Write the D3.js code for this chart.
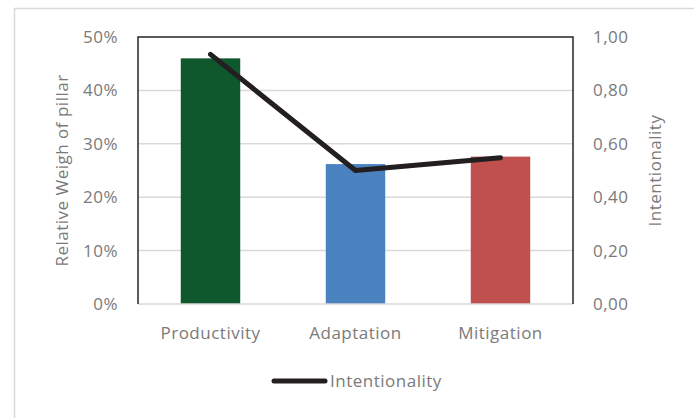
<!DOCTYPE html>
<html>
<head>
<meta charset="utf-8">
<script src="https://cdn.jsdelivr.net/npm/d3@7"></script>
<style>
  body { margin: 0; background: #fff; }
  svg text { font-family: "Open Sans", sans-serif; fill: #7a7a7a; letter-spacing: 0.5px; }
</style>
</head>
<body>
<div id="chart"></div>
<script>
const categories = ["Productivity", "Adaptation", "Mitigation"];
const weights = [0.46, 0.262, 0.276];
const intentionality = [0.935, 0.50, 0.548];
const barColors = ["#0f582d", "#4a81bf", "#c0504d"];
const leftTicks = [0, 0.1, 0.2, 0.3, 0.4, 0.5];
const rightTicks = [0, 0.2, 0.4, 0.6, 0.8, 1.0];

const width = 694, height = 418;
const margin = { top: 37, right: 121, bottom: 114, left: 138 };
const innerW = width - margin.left - margin.right;
const innerH = height - margin.top - margin.bottom;
const fs = 17;

const svg = d3.select("#chart").append("svg")
  .attr("width", width)
  .attr("height", height);

// outer chart frame
svg.append("rect")
  .attr("x", 14.5).attr("y", 8.5)
  .attr("width", width).attr("height", height)
  .attr("fill", "none")
  .attr("stroke", "#d9d9d9")
  .attr("stroke-width", 1.5);

const g = svg.append("g").attr("transform", `translate(${margin.left},${margin.top})`);

const x = d3.scaleBand().domain(categories).range([0, innerW]).paddingInner(0.59).paddingOuter(0.295);
const yL = d3.scaleLinear().domain([0, 0.5]).range([innerH, 0]);
const yR = d3.scaleLinear().domain([0, 1]).range([innerH, 0]);

// gridlines
g.selectAll(".grid")
  .data(leftTicks.slice(1, -1))
  .enter().append("line")
  .attr("x1", 0).attr("x2", innerW)
  .attr("y1", d => yL(d)).attr("y2", d => yL(d))
  .attr("stroke", "#d9d9d9").attr("stroke-width", 1.5);

// bars
g.selectAll(".bar")
  .data(categories)
  .enter().append("rect")
  .attr("x", d => x(d))
  .attr("width", x.bandwidth())
  .attr("y", (d, i) => yL(weights[i]))
  .attr("height", (d, i) => innerH - yL(weights[i]))
  .attr("fill", (d, i) => barColors[i]);

// bottom axis line
g.append("line")
  .attr("x1", 0).attr("x2", innerW)
  .attr("y1", innerH).attr("y2", innerH)
  .attr("stroke", "#d9d9d9").attr("stroke-width", 1.5);

// frame: left, top, right dark
g.append("path")
  .attr("d", `M0,${innerH}V0H${innerW}V${innerH}`)
  .attr("fill", "none")
  .attr("stroke", "#262626")
  .attr("stroke-width", 1.5);

// line series
const line = d3.line()
  .x((d, i) => x(categories[i]) + x.bandwidth() / 2)
  .y(d => yR(d));

g.append("path")
  .datum(intentionality)
  .attr("d", line)
  .attr("fill", "none")
  .attr("stroke", "#231f20")
  .attr("stroke-width", 5)
  .attr("stroke-linecap", "round")
  .attr("stroke-linejoin", "round");

// left axis
const leftAxis = d3.axisLeft(yL).tickValues(leftTicks).tickFormat(d3.format(".0%")).tickSize(0).tickPadding(20);
g.append("g").call(leftAxis)
  .call(a => a.select(".domain").remove())
  .selectAll("text").attr("font-size", fs).style("font-family", null);

// right axis
const rightAxis = d3.axisRight(yR).tickValues(rightTicks)
  .tickFormat(d => d3.format(".2f")(d).replace(".", ","))
  .tickSize(0).tickPadding(20);
g.append("g").attr("transform", `translate(${innerW},0)`).call(rightAxis)
  .call(a => a.select(".domain").remove())
  .selectAll("text").attr("font-size", fs).style("font-family", null);

// x axis labels
const xAxis = d3.axisBottom(x).tickSize(0).tickPadding(23);
g.append("g").attr("transform", `translate(0,${innerH})`).call(xAxis)
  .call(a => a.select(".domain").remove())
  .selectAll("text").attr("font-size", fs).style("font-family", null);

svg.selectAll(".tick text").attr("fill", "#7a7a7a");

// axis titles
svg.append("text")
  .attr("transform", `translate(68,${margin.top + innerH / 2}) rotate(-90)`)
  .attr("text-anchor", "middle")
  .attr("font-size", fs)
  .text("Relative Weigh of pillar");

svg.append("text")
  .attr("transform", `translate(661,${margin.top + innerH / 2}) rotate(-90)`)
  .attr("text-anchor", "middle")
  .attr("font-size", fs)
  .text("Intentionality");

// legend
const legend = svg.append("g").attr("transform", "translate(272,381)");
legend.append("line")
  .attr("x1", 2).attr("x2", 53)
  .attr("stroke", "#231f20").attr("stroke-width", 5)
  .attr("stroke-linecap", "round");
legend.append("text")
  .attr("x", 58).attr("dy", "0.35em")
  .attr("font-size", fs)
  .text("Intentionality");
</script>
</body>
</html>
